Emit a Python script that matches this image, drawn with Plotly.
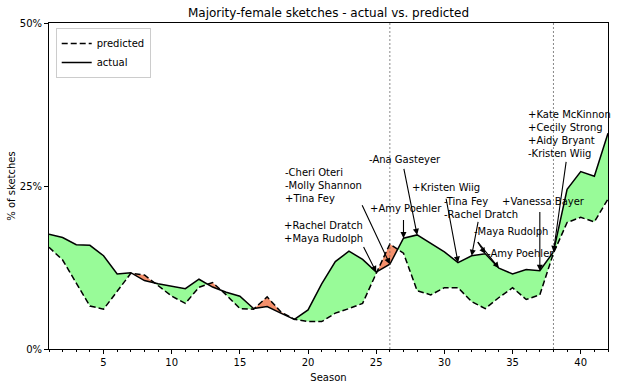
import plotly.graph_objects as go

seasons = list(range(1, 43))
actual = [17.6, 17.1, 16.0, 15.9, 14.3, 11.5, 11.7, 10.5, 10.0, 9.6,
          9.25, 10.7, 9.5, 8.7, 8.1, 6.2, 6.5, 5.5, 4.55, 6.0,
          10.0, 13.4, 15.0, 13.75, 11.8, 13.0, 17.0, 17.5, 16.2, 14.9,
          13.25, 14.3, 14.6, 12.4, 11.5, 12.2, 12.0, 14.9, 24.5, 27.2,
          26.5, 33.1]
predicted = [15.6, 13.65, 10.1, 6.6, 6.1, 8.9, 11.6, 11.35, 9.7, 8.1,
             7.0, 9.46, 10.2, 8.3, 6.2, 6.1, 8.0, 5.7, 4.55, 4.2,
             4.2, 5.5, 6.2, 7.0, 11.6, 16.1, 14.7, 8.95, 8.3, 9.4,
             9.4, 7.26, 6.2, 7.9, 9.4, 7.6, 8.3, 14.7, 19.4, 20.2,
             19.5, 23.0]

marked_seasons = [26, 38]
y_ticks = [0, 25, 50]
y_ticklabels = ["0%", "25%", "50%"]
x_ticks = [5, 10, 15, 20, 25, 30, 35, 40]

# annotations: (season pointed at, label, label position (season, %), arrow tail (season, %))
notes = [
    (25, "+Rachel Dratch<br>+Maya Rudolph", (18.1, 17.9), (24.0, 15.95)),
    (26, "-Cheri Oteri<br>-Molly Shannon<br>+Tina Fey", (18.15, 25.15), (23.9, 22.35)),
    (27, "+Amy Poehler", (24.4, 21.5), (27.0, 20.1)),
    (28, "-Ana Gasteyer", (24.35, 29.0), (27.0, 27.95)),
    (31, "+Kristen Wiig", (27.5, 24.7), (30.1, 23.35)),
    (32, "-Tina Fey<br>-Rachel Dratch", (29.85, 21.7), (32.5, 19.8)),
    (33, "-Maya Rudolph", (32.05, 17.95), (32.35, 16.7)),
    (34, "-Amy Poehler", (33.0, 14.7), (32.35, 16.7)),
    (37, "+Vanessa Bayer", (34.05, 22.55), (37.0, 21.3)),
    (38, "+Kate McKinnon<br>+Cecily Strong<br>+Aidy Bryant<br>-Kristen Wiig", (36.0, 32.9), (38.95, 29.0)),
]

FONT = "DejaVu Sans"

# build fill arrays with crossing points inserted
xs, a_aug, p_aug = [], [], []
for i in range(len(seasons)):
    if i > 0:
        d0 = actual[i - 1] - predicted[i - 1]
        d1 = actual[i] - predicted[i]
        if d0 * d1 < 0:
            t = d0 / (d0 - d1)
            xc = seasons[i - 1] + t * (seasons[i] - seasons[i - 1])
            yc = actual[i - 1] + t * (actual[i] - actual[i - 1])
            xs.append(xc); a_aug.append(yc); p_aug.append(yc)
    xs.append(seasons[i]); a_aug.append(actual[i]); p_aug.append(predicted[i])
hi = [max(a, p) for a, p in zip(a_aug, p_aug)]

fig = go.Figure()
# green: actual above predicted
fig.add_trace(go.Scatter(x=xs, y=p_aug, mode="lines", line=dict(width=0), showlegend=False, hoverinfo="skip"))
fig.add_trace(go.Scatter(x=xs, y=hi, mode="lines", line=dict(width=0), fill="tonexty",
                         fillcolor="#98FB98", showlegend=False, hoverinfo="skip"))
# orange: predicted above actual
fig.add_trace(go.Scatter(x=xs, y=a_aug, mode="lines", line=dict(width=0), showlegend=False, hoverinfo="skip"))
fig.add_trace(go.Scatter(x=xs, y=hi, mode="lines", line=dict(width=0), fill="tonexty",
                         fillcolor="#F4906C", showlegend=False, hoverinfo="skip"))

fig.add_trace(go.Scatter(x=seasons, y=predicted, mode="lines", name="predicted",
                         line=dict(color="black", width=1.5, dash="6px,3px")))
fig.add_trace(go.Scatter(x=seasons, y=actual, mode="lines", name="actual",
                         line=dict(color="black", width=1.5)))

for s in marked_seasons:
    fig.add_shape(type="line", x0=s, x1=s, y0=0, y1=1, xref="x", yref="paper",
                  line=dict(color="#555555", width=0.7, dash="2px,2px"))

annots = []
for season, label, (tx, ty), (ax, ay) in notes:
    annots.append(dict(x=tx, y=ty, xref="x", yref="y", text=label, showarrow=False,
                       xanchor="left", yanchor="middle", align="left",
                       font=dict(family=FONT, size=10, color="black")))
    annots.append(dict(x=season, y=actual[seasons.index(season)], xref="x", yref="y",
                       ax=ax, ay=ay, axref="x", ayref="y", text=" ", showarrow=True,
                       arrowhead=2, arrowsize=1.1, arrowwidth=1.1, arrowcolor="black",
                       standoff=0, startstandoff=0, font=dict(size=1)))

fig.update_layout(
    width=619, height=387,
    margin=dict(l=49, r=11, t=23, b=38, autoexpand=False),
    paper_bgcolor="white", plot_bgcolor="white",
    font=dict(family=FONT, size=10, color="black"),
    title=dict(text="Majority-female sketches - actual vs. predicted", x=0.5307, xanchor="center",
               y=0.966, yanchor="middle", font=dict(size=12, family=FONT, color="black")),
    showlegend=True,
    legend=dict(x=0.012, y=0.985, xanchor="left", yanchor="top", bgcolor="white",
                bordercolor="#cccccc", borderwidth=1, font=dict(size=10, family=FONT),
                tracegroupgap=0, itemwidth=30, traceorder="normal"),
    annotations=annots,
    xaxis=dict(range=[1, 42], tickvals=x_ticks, ticks="outside", ticklen=4, tickwidth=1,
               tickcolor="black", showline=True, linecolor="black", linewidth=1, mirror=True,
               showgrid=False, zeroline=False, automargin=False,
               minor=dict(dtick=1, ticks="outside", ticklen=2, tickcolor="black", showgrid=False),
               title=dict(text="Season", font=dict(size=10), standoff=6)),
    yaxis=dict(range=[0, 50], tickvals=y_ticks, ticktext=y_ticklabels, ticks="outside", ticklen=4,
               tickwidth=1, tickcolor="black", showline=True, linecolor="black", linewidth=1,
               mirror=True, showgrid=False, zeroline=False, automargin=False,
               title=dict(text="% of sketches", font=dict(size=10), standoff=2)),
)

fig.write_html("out.html", config={"displayModeBar": False},
               post_script="document.body.style.margin='0px';")
